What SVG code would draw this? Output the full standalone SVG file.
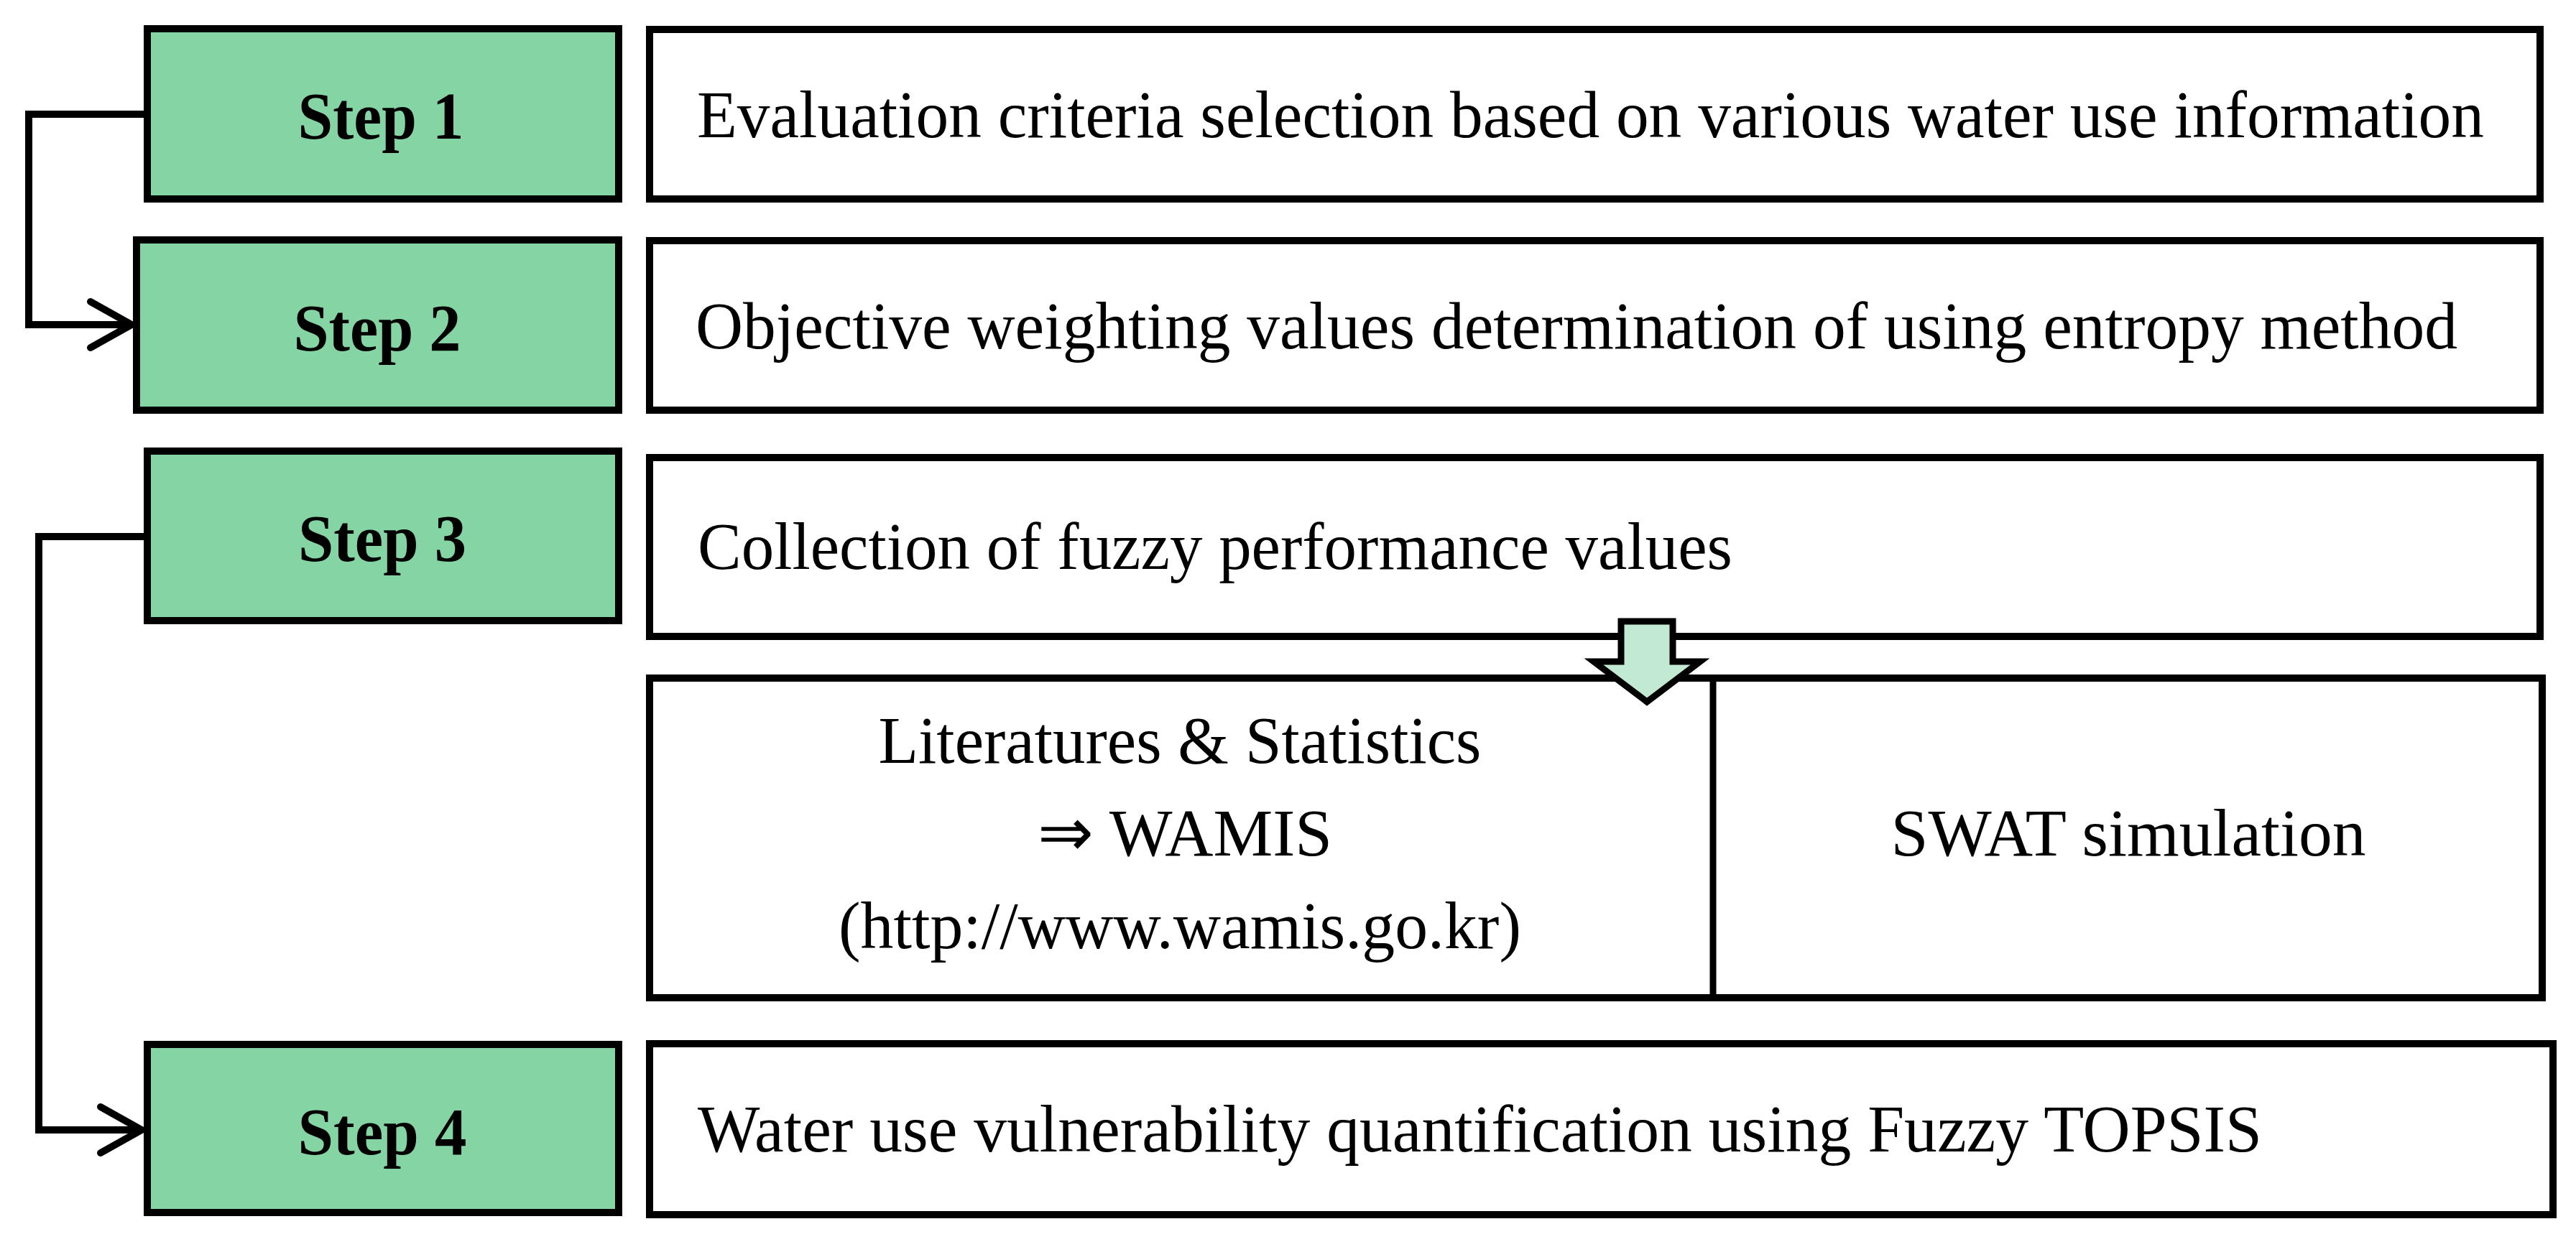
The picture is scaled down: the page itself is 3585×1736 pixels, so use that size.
<svg xmlns="http://www.w3.org/2000/svg" width="3585" height="1736" viewBox="0 0 3585 1736">
<style>
.step{fill:#85D5A4;stroke:#000;stroke-width:10}
.box{fill:#fff;stroke:#000;stroke-width:10}
.lbl{font-family:"Liberation Serif","Times New Roman",serif;font-size:94px;fill:#000}
.bold{font-weight:bold;text-anchor:middle}
.mid{text-anchor:middle}
.conn{fill:none;stroke:#000;stroke-width:10;stroke-linejoin:miter}
</style>
<defs>
<marker id="chev" markerUnits="userSpaceOnUse" viewBox="-10 -10 80 84" refX="57" refY="32" markerWidth="80" markerHeight="84" orient="auto" overflow="visible">
<path d="M0 0 L57 32 L0 64" fill="none" stroke="#000" stroke-width="10" stroke-linecap="round" stroke-linejoin="miter"/>
</marker>
</defs>
<rect width="3585" height="1736" fill="#fff"/>
<g id="connectors">
<path class="conn" d="M200 159 H40 V452 H183" marker-end="url(#chev)"/>
<path class="conn" d="M200 747 H54 V1573 H197" marker-end="url(#chev)"/>
</g>
<g id="step1">
<rect class="step" x="205" y="40" width="656" height="237"/>
<text class="lbl bold" x="530" y="193" textLength="231" lengthAdjust="spacingAndGlyphs">Step 1</text>
</g>
<g id="step2">
<rect class="step" x="190" y="334" width="671" height="237"/>
<text class="lbl bold" x="525" y="488" textLength="233" lengthAdjust="spacingAndGlyphs">Step 2</text>
</g>
<g id="step3">
<rect class="step" x="205" y="628" width="656" height="236"/>
<text class="lbl bold" x="532" y="781" textLength="234" lengthAdjust="spacingAndGlyphs">Step 3</text>
</g>
<g id="step4">
<rect class="step" x="205" y="1454" width="656" height="234"/>
<text class="lbl bold" x="532" y="1607" textLength="235" lengthAdjust="spacingAndGlyphs">Step 4</text>
</g>
<g id="desc1">
<rect class="box" x="904" y="41" width="2631" height="236"/>
<text class="lbl" x="970" y="191" textLength="2487" lengthAdjust="spacingAndGlyphs">Evaluation criteria selection based on various water use information</text>
</g>
<g id="desc2">
<rect class="box" x="904" y="335" width="2631" height="236"/>
<text class="lbl" x="968" y="485" textLength="2452" lengthAdjust="spacingAndGlyphs">Objective weighting values determination of using entropy method</text>
</g>
<g id="desc3">
<rect class="box" x="904" y="637" width="2631" height="249"/>
<text class="lbl" x="971" y="792" textLength="1440" lengthAdjust="spacingAndGlyphs">Collection of fuzzy performance values</text>
</g>
<g id="sources">
<rect class="box" x="904" y="944" width="2634" height="445"/>
<line x1="2384" y1="944" x2="2384" y2="1389" stroke="#000" stroke-width="9"/>
<text class="lbl mid" x="1642" y="1062" textLength="839" lengthAdjust="spacingAndGlyphs">Literatures &amp; Statistics</text>
<text class="lbl mid" x="1649" y="1191" textLength="410" lengthAdjust="spacingAndGlyphs">⇒ WAMIS</text>
<text class="lbl mid" x="1642" y="1320" textLength="950" lengthAdjust="spacingAndGlyphs">(http://www.wamis.go.kr)</text>
<text class="lbl mid" x="2962" y="1191" textLength="661" lengthAdjust="spacingAndGlyphs">SWAT simulation</text>
</g>
<g id="flow-arrow">
<polygon points="2256,865 2328,865 2328,921 2366,921 2292,977 2218,921 2256,921" fill="#C2E9D2" stroke="#000" stroke-width="9" stroke-linejoin="miter" stroke-miterlimit="10"/>
</g>
<g id="desc4">
<rect class="box" x="904" y="1453" width="2649" height="238"/>
<text class="lbl" x="971" y="1603" textLength="2177" lengthAdjust="spacingAndGlyphs">Water use vulnerability quantification using Fuzzy TOPSIS</text>
</g>
</svg>
